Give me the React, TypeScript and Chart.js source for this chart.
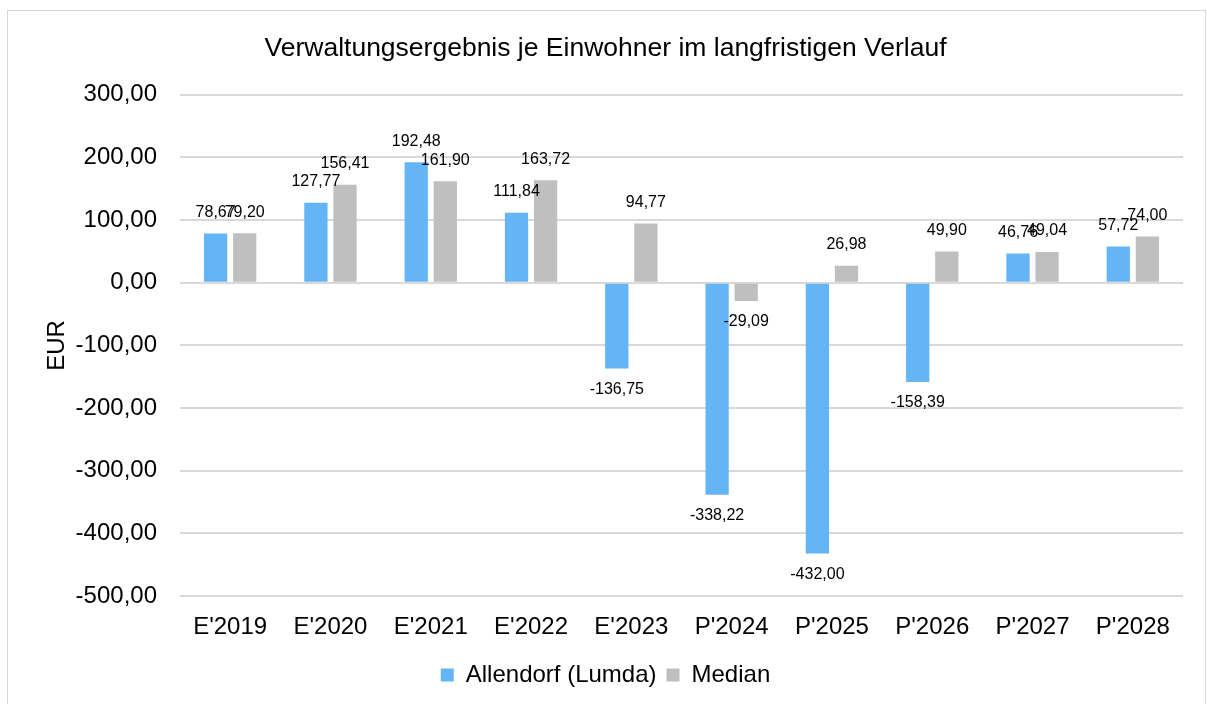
import React, { useEffect, useRef } from "react";
import { Chart, registerables } from "chart.js";

Chart.register(...registerables);

const categories = ["E'2019", "E'2020", "E'2021", "E'2022", "E'2023", "P'2024", "P'2025", "P'2026", "P'2027", "P'2028"];
const allendorf = [78.67, 127.77, 192.48, 111.84, -136.75, -338.22, -432.0, -158.39, 46.76, 57.72];
const median = [79.2, 156.41, 161.9, 163.72, 94.77, -29.09, 26.98, 49.9, 49.04, 74.0];
const seriesNames = ["Allendorf (Lumda)", "Median"];
const titleText = "Verwaltungsergebnis je Einwohner im langfristigen Verlauf";
const yTitle = "EUR";

const FONT = "'Liberation Sans', Arial, sans-serif";
const fmt = (v: number) => v.toFixed(2).replace(".", ",");

const dataLabels = {
  id: "dataLabels",
  afterDatasetsDraw(chart: any) {
    const ctx = chart.ctx;
    ctx.save();
    ctx.font = `16px ${FONT}`;
    ctx.fillStyle = "#000";
    ctx.textAlign = "center";
    ctx.textBaseline = "middle";
    chart.data.datasets.forEach((ds: any, di: number) => {
      const meta = chart.getDatasetMeta(di);
      meta.data.forEach((el: any, i: number) => {
        const v = ds.data[i];
        const y = v >= 0 ? el.y - 21 : el.y + 21;
        ctx.fillText(fmt(v), el.x, y);
      });
    });
    ctx.restore();
  },
};

export default function App() {
  const ref = useRef<HTMLCanvasElement>(null);
  useEffect(() => {
    if (!ref.current) return;
    const chart = new Chart(ref.current, {
      type: "bar",
      data: {
        labels: categories,
        datasets: [
          { label: seriesNames[0], data: allendorf, backgroundColor: "#64b5f6", categoryPercentage: 0.58, barPercentage: 0.8 },
          { label: seriesNames[1], data: median, backgroundColor: "#bfbfbf", categoryPercentage: 0.58, barPercentage: 0.8 },
        ],
      },
      options: {
        animation: false,
        responsive: false,
        maintainAspectRatio: false,
        layout: { padding: { left: 20, right: 22, top: 0, bottom: 12 } },
        plugins: {
          title: {
            display: true,
            text: titleText,
            color: "#000",
            font: { family: FONT, size: 26.5, weight: "normal" },
            padding: { top: 22, bottom: 30 },
          },
          legend: {
            position: "bottom",
            labels: {
              color: "#000",
              font: { family: FONT, size: 24 },
              boxWidth: 13,
              boxHeight: 13,
              padding: 10,
            },
          },
          tooltip: { enabled: false },
        },
        scales: {
          x: {
            grid: { display: false },
            border: { display: false },
            ticks: { color: "#000", font: { family: FONT, size: 24 }, padding: 9, maxRotation: 0 },
            afterFit: (s: any) => { s.height = 57; },
          },
          y: {
            min: -500,
            max: 300,
            grid: { color: "#d9d9d9", lineWidth: 2, drawTicks: false },
            border: { display: false },
            ticks: {
              stepSize: 100,
              color: "#000",
              font: { family: FONT, size: 24 },
              padding: 23,
              callback: (v: any) => fmt(Number(v)),
            },
            title: {
              display: true,
              text: yTitle,
              color: "#000",
              font: { family: FONT, size: 24 },
              padding: { top: 14.6, bottom: 0 },
            },
            afterFit: (s: any) => { s.width = 152; },
          },
        },
      },
      plugins: [dataLabels],
    });
    return () => chart.destroy();
  }, []);
  return (
    <div
      style={{
        position: "fixed",
        left: 7,
        top: 10,
        width: 1199,
        height: 700,
        border: "1px solid #d9d9d9",
        boxSizing: "border-box",
        background: "#fff",
      }}
    >
      <canvas ref={ref} width={1197} height={698} style={{ display: "block" }} />
    </div>
  );
}
